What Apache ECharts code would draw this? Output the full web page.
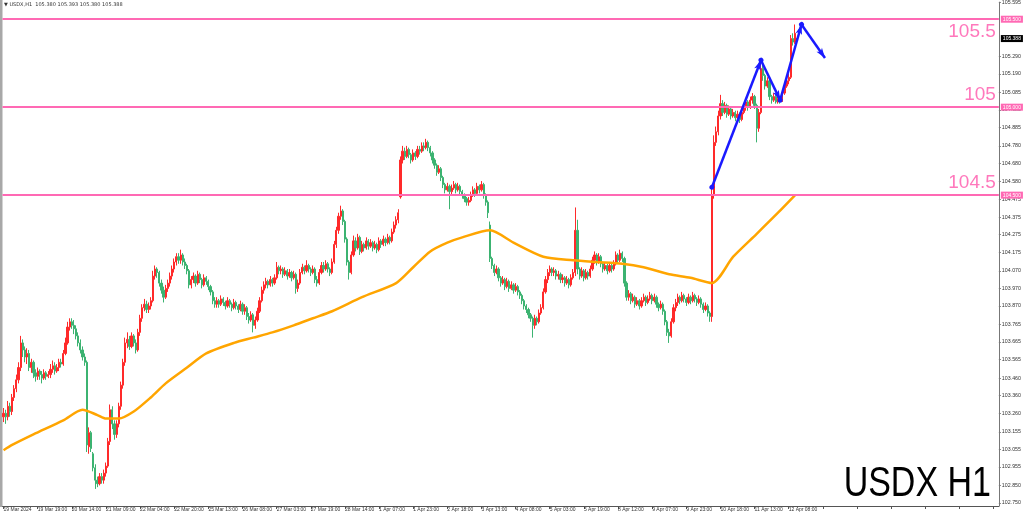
<!DOCTYPE html>
<html>
<head>
<meta charset="utf-8">
<title>USDX H1</title>
<style>
  html, body { margin: 0; padding: 0; background: #fff; }
  #chart { width: 1024px; height: 515px; }
</style>
<script src="https://cdn.jsdelivr.net/npm/echarts@6/dist/echarts.min.js"></script>
</head>
<body>
<div id="chart"></div>
<script>
// bottom axis labels, one every 16 hourly bars
const tickLabels = [
  '19 Mar 2024', '19 Mar 19:00', '20 Mar 14:00', '21 Mar 09:00', '22 Mar 04:00', '22 Mar 20:00',
  '25 Mar 13:00', '26 Mar 08:00', '27 Mar 03:00', '27 Mar 19:00', '28 Mar 14:00', '1 Apr 07:00',
  '1 Apr 23:00', '2 Apr 18:00', '3 Apr 13:00', '4 Apr 08:00', '5 Apr 03:00', '5 Apr 19:00',
  '8 Apr 12:00', '9 Apr 07:00', '9 Apr 23:00', '10 Apr 18:00', '11 Apr 13:00', '12 Apr 08:00'
];

// right axis price labels
const priceLabels = [
  105.595, 105.290, 105.190, 105.085, 104.985, 104.885, 104.780, 104.680, 104.580,
  104.475, 104.375, 104.275, 104.175, 104.070, 103.970, 103.870, 103.765, 103.665,
  103.565, 103.460, 103.360, 103.260, 103.155, 103.055, 102.955, 102.850, 102.750
];

// horizontal levels
const levels = [105.5, 105.0, 104.5];
const levelNames = ['105.5', '105', '104.5'];
const levelTags = ['105.500', '105.000', '104.500'];
const lastPrice = 105.388;
const headerText = '\u25BC USDX,H1  105.380 105.393 105.380 105.388';

// hourly candles: [open, close, low, high]
const candles = [
  [103.24,103.26,103.21,103.29],[103.26,103.24,103.20,103.28],[103.24,103.30,103.22,103.33],[103.30,103.27,103.24,103.32],
  [103.27,103.35,103.25,103.37],[103.35,103.40,103.33,103.42],[103.40,103.45,103.38,103.48],[103.45,103.52,103.43,103.55],
  [103.52,103.66,103.50,103.70],[103.66,103.62,103.58,103.68],[103.62,103.58,103.55,103.64],[103.58,103.60,103.54,103.63],
  [103.60,103.52,103.50,103.62],[103.52,103.55,103.49,103.57],[103.55,103.49,103.46,103.56],[103.49,103.47,103.44,103.51],
  [103.47,103.50,103.45,103.52],[103.50,103.48,103.45,103.51],[103.48,103.46,103.43,103.50],[103.46,103.49,103.45,103.51],
  [103.49,103.47,103.45,103.50],[103.47,103.48,103.46,103.50],[103.48,103.51,103.46,103.54],[103.51,103.53,103.49,103.56],
  [103.53,103.50,103.48,103.55],[103.50,103.52,103.49,103.54],[103.52,103.55,103.50,103.57],[103.55,103.54,103.52,103.57],
  [103.54,103.60,103.53,103.62],[103.60,103.66,103.59,103.69],[103.66,103.75,103.65,103.78],[103.75,103.78,103.73,103.80],
  [103.78,103.76,103.74,103.80],[103.76,103.74,103.71,103.79],[103.74,103.70,103.68,103.76],[103.70,103.66,103.64,103.72],
  [103.66,103.62,103.60,103.68],[103.62,103.58,103.56,103.64],[103.58,103.55,103.53,103.60],[103.55,103.08,103.04,103.56],
  [103.07,103.15,103.03,103.18],[103.15,103.06,103.04,103.16],[103.03,102.95,102.93,103.04],[102.95,102.88,102.83,102.97],
  [102.88,102.86,102.84,102.90],[102.86,102.90,102.85,102.92],[102.90,102.88,102.86,102.92],[102.88,102.92,102.86,102.94],
  [102.92,102.96,102.90,102.98],[102.96,103.10,102.95,103.12],[103.10,103.28,103.08,103.31],[103.28,103.20,103.17,103.30],
  [103.20,103.14,103.11,103.22],[103.14,103.20,103.12,103.22],[103.20,103.30,103.18,103.32],[103.30,103.42,103.28,103.44],
  [103.42,103.55,103.40,103.57],[103.55,103.66,103.53,103.69],[103.66,103.68,103.63,103.72],[103.68,103.64,103.62,103.70],
  [103.64,103.70,103.63,103.72],[103.70,103.66,103.64,103.71],[103.66,103.62,103.60,103.68],[103.62,103.72,103.61,103.74],
  [103.72,103.80,103.70,103.82],[103.80,103.86,103.78,103.88],[103.86,103.88,103.84,103.91],[103.88,103.85,103.83,103.90],
  [103.85,103.87,103.83,103.89],[103.87,103.90,103.85,103.92],[103.90,104.04,103.89,104.07],[104.04,104.08,104.02,104.10],
  [104.08,104.06,104.03,104.09],[104.06,104.00,103.98,104.07],[104.00,103.96,103.94,104.02],[103.96,103.92,103.89,103.98],
  [103.92,103.97,103.91,103.99],[103.97,104.00,103.95,104.02],[104.00,104.04,103.98,104.06],[104.04,104.08,104.02,104.10],
  [104.08,104.12,104.06,104.14],[104.12,104.15,104.10,104.17],[104.15,104.13,104.11,104.17],[104.13,104.16,104.11,104.19],
  [104.16,104.12,104.10,104.17],[104.12,104.10,104.08,104.14],[104.10,104.07,104.05,104.11],[104.07,103.99,103.97,104.08],
  [103.99,104.02,103.97,104.04],[104.02,104.04,104.00,104.06],[104.04,104.00,103.98,104.05],[104.00,104.05,103.99,104.07],
  [104.05,104.02,104.00,104.06],[104.02,103.99,103.97,104.03],[103.99,104.03,103.98,104.05],[104.03,104.01,103.99,104.04],
  [104.01,103.98,103.96,104.02],[103.98,103.95,103.93,103.99],[103.95,103.90,103.88,103.96],[103.90,103.88,103.86,103.92],
  [103.88,103.90,103.86,103.92],[103.90,103.88,103.86,103.91],[103.88,103.91,103.87,103.93],[103.91,103.89,103.87,103.92],
  [103.89,103.87,103.85,103.90],[103.87,103.90,103.86,103.92],[103.90,103.88,103.86,103.91],[103.88,103.86,103.84,103.89],
  [103.86,103.89,103.85,103.91],[103.89,103.87,103.85,103.90],[103.87,103.85,103.83,103.88],[103.85,103.88,103.84,103.90],
  [103.88,103.84,103.82,103.89],[103.84,103.86,103.82,103.88],[103.86,103.81,103.79,103.87],[103.81,103.79,103.77,103.83],
  [103.79,103.82,103.78,103.84],[103.82,103.76,103.72,103.83],[103.76,103.79,103.74,103.81],[103.79,103.84,103.78,103.86],
  [103.84,103.90,103.83,103.92],[103.90,103.96,103.89,103.98],[103.96,103.99,103.94,104.01],[103.99,104.01,103.97,104.03],
  [104.01,103.99,103.97,104.02],[103.99,104.02,103.98,104.04],[104.02,104.00,103.98,104.03],[104.00,104.03,103.99,104.05],
  [104.03,104.09,104.02,104.12],[104.09,104.07,104.05,104.10],[104.07,104.08,104.05,104.10],[104.08,104.05,104.03,104.09],
  [104.05,104.07,104.04,104.09],[104.07,104.04,104.02,104.08],[104.04,104.06,104.03,104.08],[104.06,104.03,104.01,104.07],
  [104.03,104.05,104.02,104.07],[104.05,103.97,103.94,104.06],[103.97,104.00,103.95,104.02],[104.00,104.06,103.99,104.08],
  [104.06,104.09,104.05,104.11],[104.09,104.07,104.05,104.10],[104.07,104.10,104.06,104.13],[104.10,104.08,104.06,104.11],
  [104.08,104.06,104.04,104.09],[104.06,104.08,104.05,104.10],[104.08,104.02,104.00,104.09],[104.02,104.00,103.98,104.04],
  [104.00,104.06,103.99,104.08],[104.06,104.10,104.05,104.12],[104.10,104.08,104.06,104.12],[104.08,104.11,104.07,104.13],
  [104.11,104.08,104.06,104.12],[104.08,104.06,104.04,104.09],[104.06,104.12,104.05,104.14],[104.12,104.22,104.11,104.24],
  [104.22,104.30,104.20,104.32],[104.30,104.38,104.28,104.40],[104.38,104.41,104.36,104.44],[104.41,104.35,104.33,104.42],
  [104.35,104.25,104.23,104.36],[104.25,104.12,104.10,104.26],[104.12,104.06,104.02,104.13],[104.06,104.16,104.05,104.18],
  [104.16,104.24,104.15,104.27],[104.24,104.20,104.18,104.26],[104.20,104.26,104.19,104.28],[104.26,104.18,104.16,104.27],
  [104.18,104.22,104.17,104.24],[104.22,104.20,104.18,104.23],[104.20,104.24,104.19,104.26],[104.24,104.21,104.19,104.25],
  [104.21,104.23,104.20,104.25],[104.23,104.20,104.18,104.24],[104.20,104.22,104.19,104.24],[104.22,104.19,104.17,104.23],
  [104.19,104.24,104.18,104.26],[104.24,104.22,104.20,104.25],[104.22,104.25,104.21,104.27],[104.25,104.23,104.21,104.26],
  [104.23,104.26,104.22,104.28],[104.26,104.24,104.22,104.27],[104.24,104.29,104.23,104.31],[104.29,104.33,104.28,104.35],
  [104.33,104.36,104.31,104.38],[104.36,104.40,104.34,104.42],[104.49,104.70,104.48,104.72],[104.70,104.75,104.68,104.78],
  [104.75,104.72,104.70,104.77],[104.72,104.76,104.71,104.78],[104.76,104.73,104.71,104.77],[104.73,104.70,104.68,104.74],
  [104.70,104.74,104.69,104.76],[104.74,104.72,104.70,104.75],[104.72,104.76,104.71,104.78],[104.76,104.75,104.73,104.78],
  [104.75,104.78,104.74,104.80],[104.78,104.77,104.75,104.80],[104.77,104.80,104.76,104.82],[104.80,104.77,104.75,104.81],
  [104.77,104.74,104.72,104.78],[104.74,104.70,104.68,104.75],[104.70,104.67,104.65,104.71],[104.67,104.63,104.61,104.68],
  [104.63,104.65,104.62,104.67],[104.65,104.60,104.58,104.66],[104.60,104.56,104.54,104.61],[104.56,104.53,104.51,104.57],
  [104.53,104.55,104.52,104.57],[104.55,104.52,104.42,104.56],[104.52,104.54,104.50,104.56],[104.54,104.56,104.53,104.58],
  [104.56,104.53,104.51,104.57],[104.53,104.55,104.52,104.57],[104.55,104.52,104.50,104.56],[104.52,104.50,104.48,104.53],
  [104.50,104.48,104.46,104.51],[104.48,104.46,104.44,104.49],[104.46,104.47,104.44,104.49],[104.47,104.50,104.46,104.52],
  [104.50,104.53,104.49,104.55],[104.53,104.51,104.49,104.54],[104.51,104.55,104.50,104.57],[104.55,104.53,104.51,104.56],
  [104.53,104.56,104.52,104.58],[104.56,104.50,104.48,104.57],[104.50,104.46,104.44,104.51],[104.46,104.40,104.37,104.47],
  [104.33,104.14,104.12,104.35],[104.14,104.10,104.08,104.15],[104.10,104.06,104.04,104.11],[104.06,104.08,104.05,104.10],
  [104.08,104.03,104.01,104.09],[104.03,104.00,103.98,104.04],[104.00,104.02,103.99,104.04],[104.02,103.98,103.96,104.03],
  [103.98,104.01,103.97,104.03],[104.01,103.97,103.95,104.02],[103.97,103.99,103.96,104.01],[103.99,103.96,103.94,104.00],
  [103.96,103.98,103.95,104.00],[103.98,103.95,103.93,103.99],[103.95,103.93,103.91,103.96],[103.93,103.90,103.88,103.94],
  [103.90,103.87,103.85,103.91],[103.87,103.85,103.83,103.88],[103.85,103.82,103.80,103.86],[103.82,103.80,103.78,103.83],
  [103.80,103.76,103.69,103.81],[103.76,103.80,103.74,103.82],[103.80,103.78,103.76,103.81],[103.78,103.83,103.77,103.85],
  [103.83,103.86,103.82,103.88],[103.86,103.95,103.85,103.97],[103.95,104.02,103.94,104.04],[104.02,104.06,104.00,104.08],
  [104.06,104.08,104.04,104.10],[104.08,104.06,104.04,104.09],[104.06,104.07,104.04,104.09],[104.07,104.04,104.02,104.08],
  [104.04,104.05,104.02,104.07],[104.05,104.02,104.00,104.06],[104.02,104.03,104.00,104.05],[104.03,104.00,103.98,104.04],
  [104.00,104.02,103.99,104.04],[104.02,103.99,103.97,104.03],[103.99,104.03,103.98,104.05],[104.03,104.06,104.02,104.08],
  [104.06,104.30,104.04,104.43],[104.30,104.08,104.05,104.36],[104.08,104.04,104.02,104.09],[104.04,104.07,104.03,104.09],
  [104.07,104.03,104.01,104.08],[104.03,104.06,104.02,104.08],[104.06,104.04,104.02,104.07],[104.04,104.08,104.03,104.10],
  [104.08,104.13,104.07,104.15],[104.13,104.16,104.11,104.18],[104.16,104.12,104.10,104.17],[104.12,104.15,104.11,104.17],
  [104.15,104.11,104.09,104.16],[104.11,104.08,104.06,104.12],[104.08,104.10,104.07,104.12],[104.10,104.07,104.05,104.11],
  [104.07,104.10,104.06,104.12],[104.10,104.08,104.06,104.11],[104.08,104.11,104.07,104.13],[104.11,104.16,104.10,104.18],
  [104.16,104.13,104.11,104.17],[104.13,104.17,104.12,104.19],[104.17,104.14,104.12,104.18],[104.14,104.00,103.98,104.15],
  [104.00,103.92,103.90,104.01],[103.92,103.94,103.90,103.96],[103.94,103.90,103.88,103.95],[103.90,103.92,103.89,103.94],
  [103.92,103.88,103.86,103.93],[103.88,103.90,103.87,103.92],[103.90,103.87,103.85,103.91],[103.87,103.90,103.86,103.92],
  [103.90,103.92,103.89,103.94],[103.92,103.89,103.87,103.93],[103.89,103.91,103.88,103.93],[103.91,103.93,103.90,103.95],
  [103.93,103.90,103.88,103.94],[103.90,103.92,103.89,103.94],[103.92,103.88,103.86,103.93],[103.88,103.86,103.84,103.89],
  [103.86,103.88,103.85,103.90],[103.88,103.84,103.82,103.89],[103.84,103.78,103.76,103.85],[103.78,103.72,103.70,103.79],
  [103.72,103.70,103.66,103.74],[103.70,103.78,103.69,103.80],[103.78,103.86,103.77,103.88],[103.86,103.89,103.84,103.91],
  [103.89,103.92,103.87,103.94],[103.92,103.90,103.88,103.93],[103.90,103.93,103.89,103.95],[103.93,103.91,103.89,103.94],
  [103.91,103.89,103.87,103.92],[103.89,103.92,103.88,103.94],[103.92,103.90,103.88,103.93],[103.90,103.93,103.89,103.95],
  [103.93,103.91,103.89,103.94],[103.91,103.89,103.87,103.92],[103.89,103.91,103.88,103.93],[103.91,103.88,103.86,103.92],
  [103.88,103.85,103.83,103.89],[103.85,103.87,103.84,103.89],[103.87,103.83,103.81,103.88],[103.83,103.81,103.78,103.84],
  [103.81,104.50,103.78,104.55],[104.50,104.80,104.48,104.84],[104.80,104.86,104.78,104.89],[104.86,104.95,104.84,104.98],
  [104.95,105.02,104.93,105.07],[105.02,104.97,104.95,105.04],[104.97,105.01,104.96,105.03],[105.01,104.96,104.94,105.02],
  [104.96,104.99,104.95,105.01],[104.99,104.95,104.93,105.00],[104.95,104.97,104.94,104.99],[104.97,104.94,104.92,104.98],
  [104.94,104.96,104.93,104.98],[104.96,104.93,104.91,104.97],[104.93,104.97,104.92,104.99],[104.97,105.00,104.96,105.02],
  [105.00,105.03,104.98,105.05],[105.03,105.00,104.98,105.04],[105.00,105.04,104.99,105.06],[105.04,105.06,105.02,105.08],
  [105.06,105.01,104.99,105.07],[105.01,104.88,104.80,105.02],[104.88,104.97,104.86,104.99],[104.97,105.22,104.96,105.27],
  [105.22,105.18,105.15,105.24],[105.18,105.12,105.10,105.19],[105.12,105.15,105.11,105.17],[105.15,105.06,105.04,105.16],
  [105.06,105.04,105.02,105.07],[105.04,105.06,105.03,105.08],[105.06,105.03,105.02,105.07],[105.03,105.05,105.02,105.07],
  [105.05,105.04,105.02,105.06],[105.04,105.08,105.03,105.10],[105.08,105.12,105.07,105.14],[105.12,105.15,105.11,105.17],
  [105.15,105.17,105.13,105.19],[105.17,105.39,105.16,105.41],[105.39,105.37,105.35,105.42],[105.37,105.42,105.36,105.47],
  [105.380,105.388,105.380,105.393]
];

// moving average: [bar index, value]
const maPoints = [
  [0,103.05],[4,103.08],[14,103.14],[28,103.22],[37,103.28],[44,103.25],[48,103.23],[54,103.23],
  [61,103.27],[69,103.35],[76,103.43],[86,103.52],[95,103.60],[108,103.66],[117,103.69],[126,103.72],
  [136,103.76],[145,103.80],[154,103.84],[168,103.92],[184,104.00],[192,104.09],[200,104.18],[208,104.23],
  [215,104.26],[228,104.30],[239,104.23],[253,104.15],[267,104.13],[278,104.12],[290,104.11],[300,104.09],
  [312,104.05],[322,104.03],[332,104.00],[342,104.15],[353,104.28],[363,104.40],[371,104.50]
];

// blue zigzag arrows: [bar index, price]
const wavePoints = [[332,104.545],[355,105.267],[364,105.04],[374,105.47],[385,105.28]];

const slotCount = 467; // bars + empty right shift
const pink = '#ff69b4';
const blue = '#1a1aff';

var chartDom = document.getElementById('chart');
var myChart = echarts.init(chartDom);

const slots = [];
for (let i = 0; i < slotCount; i++) slots.push(i);

// level lines with big text, plus the small tag on the price axis
const levelLines = [];
levels.forEach((v, k) => {
  levelLines.push({
    yAxis: v,
    lineStyle: { color: pink, width: 2, type: 'solid' },
    label: {
      show: true,
      position: k === 0 ? 'insideEndBottom' : 'insideEndTop',
      formatter: levelNames[k],
      color: '#ff78bc',
      fontSize: 19,
      fontFamily: 'Liberation Sans',
      distance: [3, 3]
    }
  });
  levelLines.push({
    yAxis: v,
    lineStyle: { color: 'rgba(0,0,0,0)', width: 1 },
    label: {
      show: true,
      position: 'end',
      formatter: levelTags[k],
      color: '#fff',
      backgroundColor: pink,
      fontSize: 5,
      fontFamily: 'Liberation Sans',
      padding: [1, 2],
      distance: 2
    }
  });
});
levelLines.push({
  yAxis: lastPrice,
  lineStyle: { color: 'rgba(0,0,0,0)', width: 1 },
  label: {
    show: true,
    position: 'end',
    formatter: lastPrice.toFixed(3),
    color: '#fff',
    backgroundColor: '#000',
    fontSize: 5,
    fontFamily: 'Liberation Sans',
    padding: [1, 2],
    distance: 2
  }
});

const waveSegments = [];
for (let k = 1; k < wavePoints.length; k++) {
  waveSegments.push([{ coord: wavePoints[k - 1] }, { coord: wavePoints[k] }]);
}

let option = {
  animation: false,
  backgroundColor: '#fff',
  grid: { left: 2.5, right: 25, top: 2, bottom: 9 },
  xAxis: {
    type: 'category',
    data: slots,
    boundaryGap: true,
    axisLine: { lineStyle: { color: '#555', width: 1 } },
    axisTick: { show: true, interval: 15, alignWithLabel: true, length: 3, lineStyle: { color: '#555' } },
    axisLabel: {
      interval: 15,
      align: 'left',
      margin: 1,
      fontSize: 5,
      fontFamily: 'Liberation Sans',
      color: '#333',
      formatter: function (v, i) { return tickLabels[i / 16] || ''; }
    },
    splitLine: { show: false }
  },
  yAxis: {
    type: 'value',
    position: 'right',
    min: 102.733,
    max: 105.597,
    splitLine: { show: false },
    axisLine: { show: true, lineStyle: { color: '#777' } },
    axisTick: { show: true, length: 2, customValues: priceLabels, lineStyle: { color: '#777' } },
    axisLabel: {
      customValues: priceLabels,
      margin: 3,
      fontSize: 5.3,
      fontFamily: 'Liberation Sans',
      color: '#333',
      formatter: function (v) { return v.toFixed(3); }
    }
  },
  graphic: [
    { type: 'rect', shape: { x: 0, y: 0, width: 2.5, height: 507 }, style: { fill: '#a8a8a8' }, silent: true },
    {
      type: 'text', left: 4, top: 2, silent: true,
      style: { text: headerText, fontSize: 5, fontFamily: 'DejaVu Sans', fill: '#333' }
    },
    {
      type: 'text', silent: true, x: 991, y: 484, scaleY: 1.25,
      style: {
        text: 'USDX H1', x: 0, y: 0, align: 'right', verticalAlign: 'middle',
        fontSize: 34, fontFamily: 'Liberation Sans', fill: '#000'
      }
    }
  ],
  series: [
    {
      name: 'USDX',
      type: 'candlestick',
      data: candles,
      barWidth: 1.7,
      clip: false,
      itemStyle: {
        color: '#ff2a2a', color0: '#3cb371',
        borderColor: '#ff2a2a', borderColor0: '#3cb371', borderWidth: 1
      },
      z: 2,
      markLine: {
        silent: true,
        symbol: ['none', 'none'],
        animation: false,
        data: levelLines
      }
    },
    {
      name: 'MA',
      type: 'line',
      data: maPoints,
      smooth: 0.25,
      showSymbol: false,
      lineStyle: { color: '#ffa500', width: 2.5 },
      z: 3
    },
    {
      name: 'wave',
      type: 'line',
      data: wavePoints,
      showSymbol: false,
      clip: false,
      itemStyle: { color: blue },
      lineStyle: { color: blue, width: 0.01, opacity: 0 },
      z: 4,
      markLine: {
        silent: true,
        animation: false,
        symbol: ['circle', 'arrow'],
        symbolSize: [5, 10],
        label: { show: false },
        itemStyle: { color: blue },
        lineStyle: { color: blue, width: 2.5, type: 'solid', opacity: 1 },
        data: waveSegments
      }
    }
  ]
};

myChart.setOption(option);

window.addEventListener('resize', function () {
  myChart.resize();
});
</script>
</body>
</html>
